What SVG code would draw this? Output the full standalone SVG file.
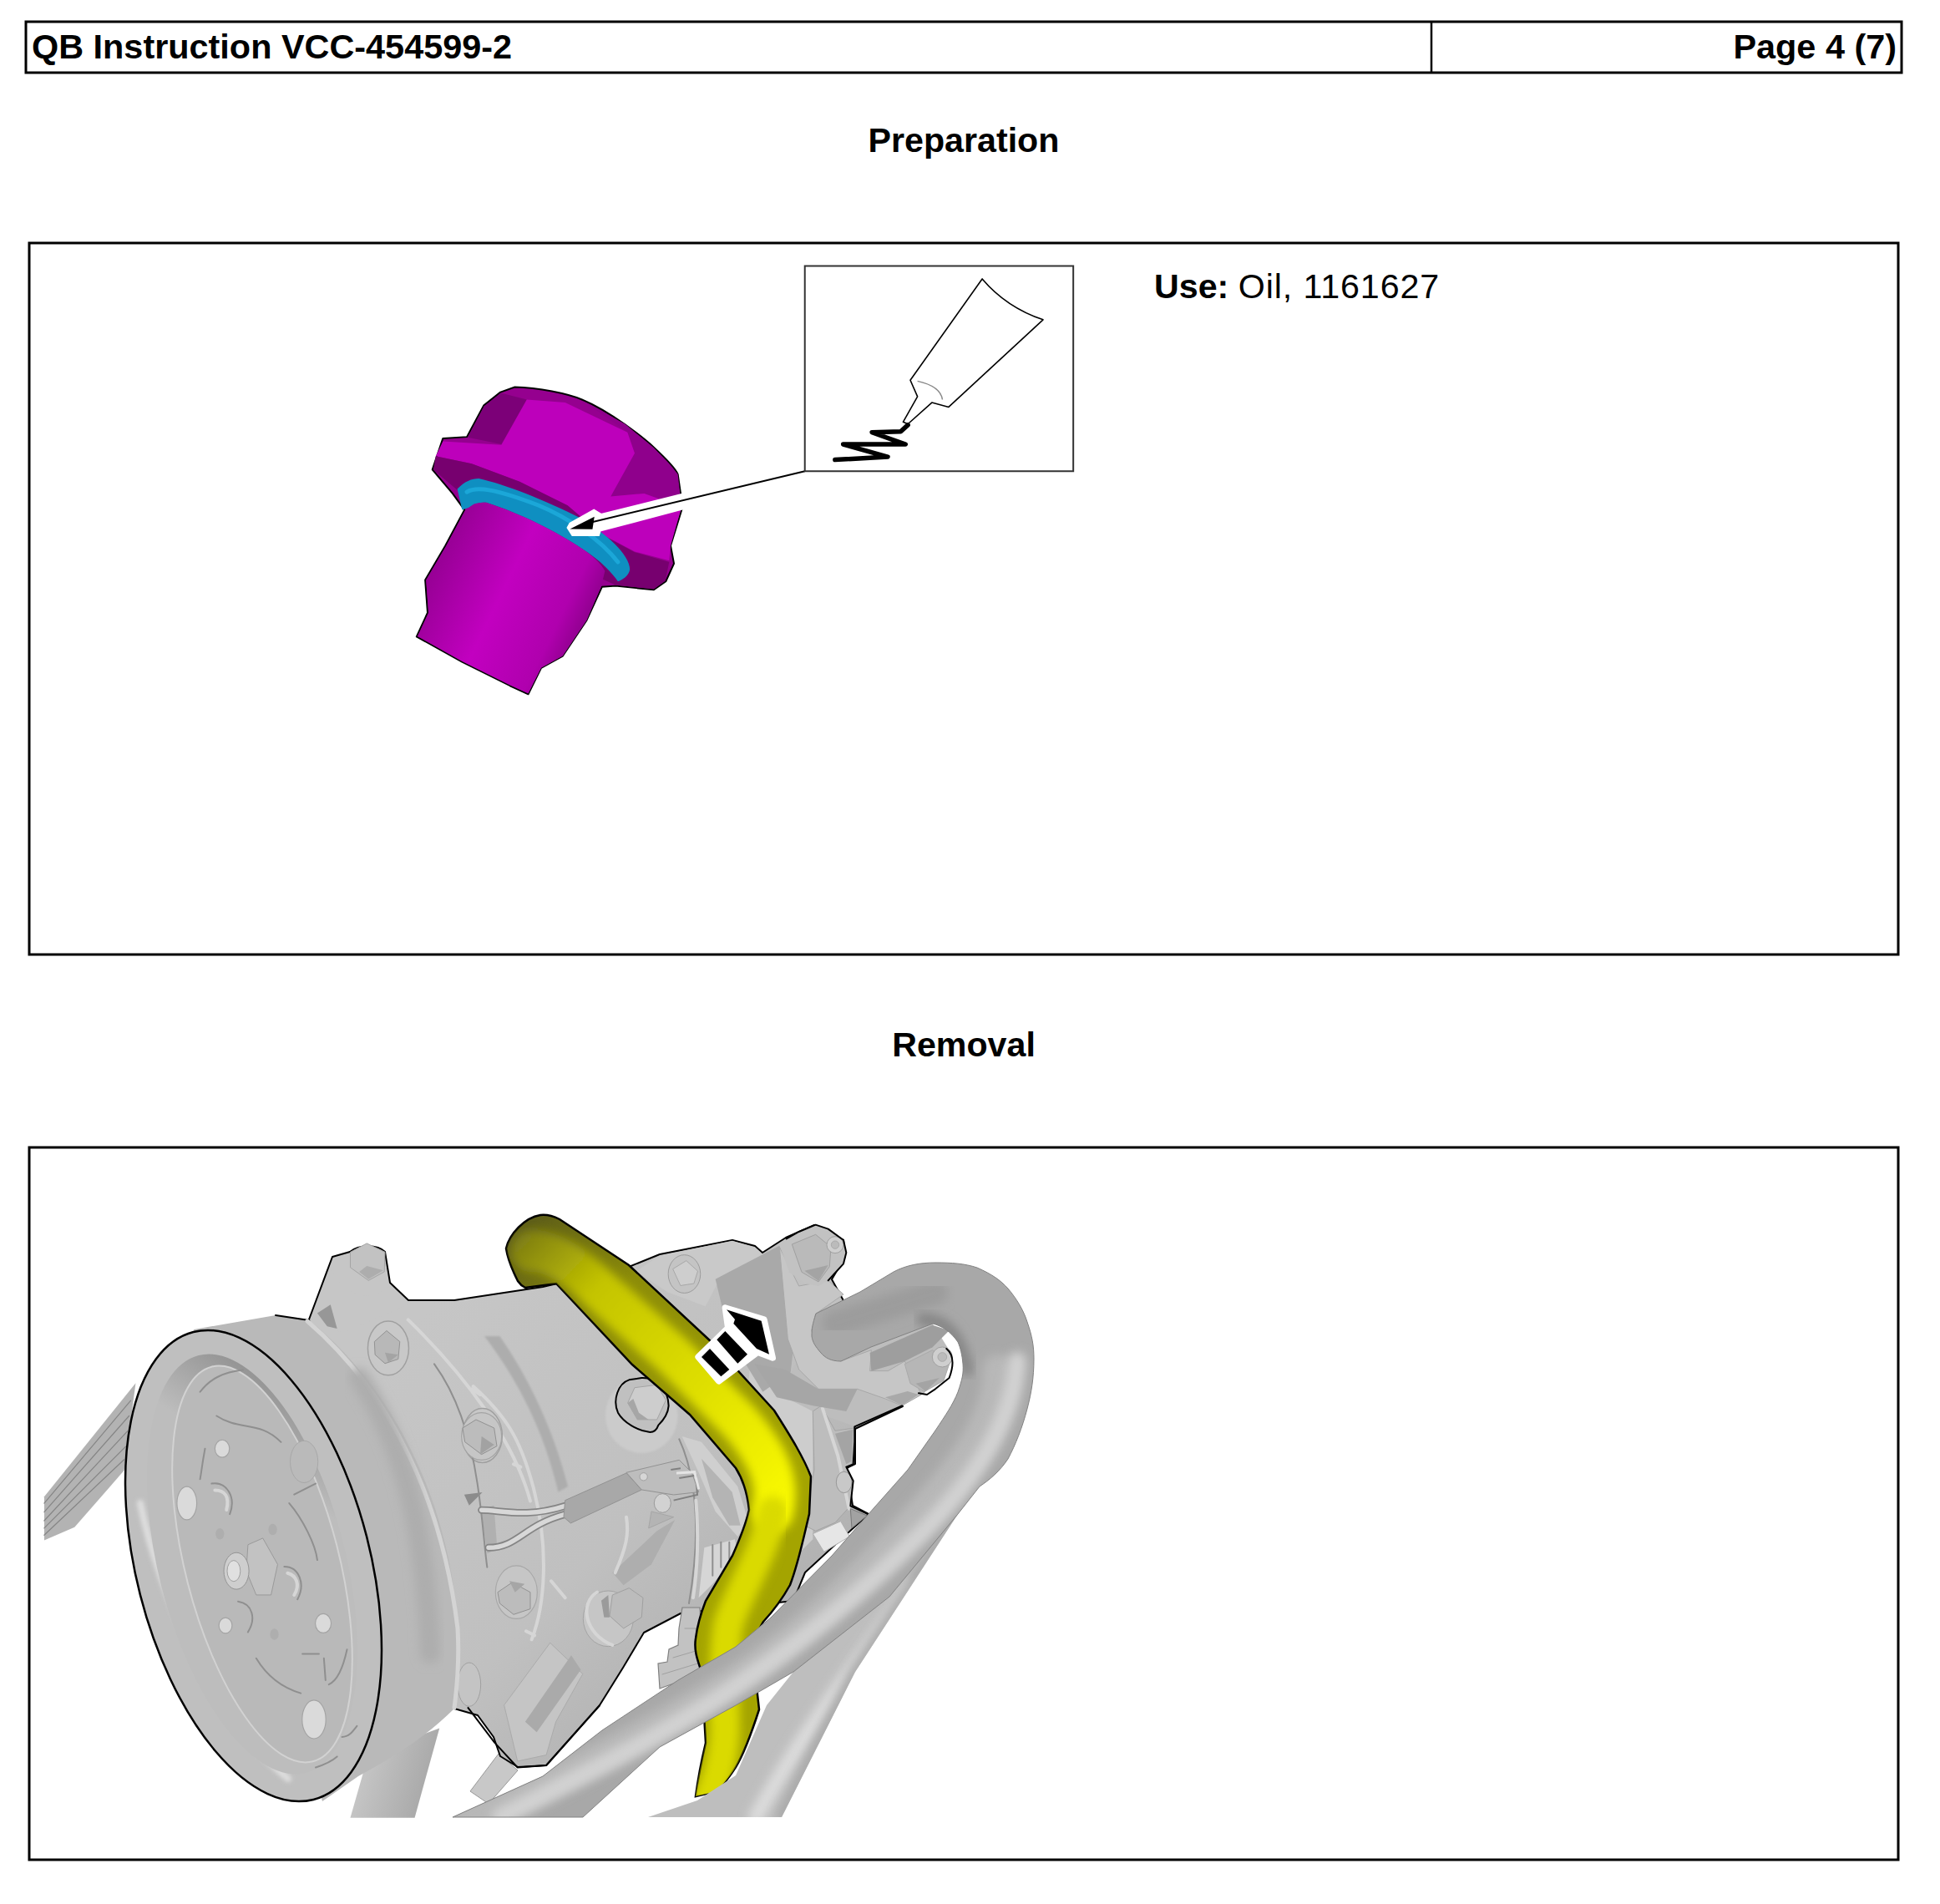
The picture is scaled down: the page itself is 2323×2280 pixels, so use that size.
<svg xmlns="http://www.w3.org/2000/svg" width="2323" height="2280" viewBox="0 0 2323 2280">
<style>
text{font-family:"Liberation Sans",Arial,sans-serif;font-size:41.2px;fill:#000}
.b{font-weight:700}
#header text{font-size:41.4px}
.frame{fill:none;stroke:#000;stroke-width:3}
.z *{vector-effect:non-scaling-stroke}
.o{stroke:#000;stroke-width:2;stroke-linejoin:round}
.ln{fill:none;stroke-linecap:round;stroke-linejoin:round}
.stud{fill:#dadada;stroke:#a4a4a4;stroke-width:1.2}
.arc{fill:none;stroke:#8f8f8f;stroke-width:2;stroke-linecap:round}
.arcl{fill:none;stroke:#d6d6d6;stroke-width:4;stroke-linecap:round}
</style>
<defs>
<filter id="soft" x="-20%" y="-20%" width="140%" height="140%"><feGaussianBlur stdDeviation="6"/></filter>
<filter id="soft2" x="-20%" y="-20%" width="140%" height="140%"><feGaussianBlur stdDeviation="2.5"/></filter>
<linearGradient id="stem" x1="0" y1=".25" x2="1" y2=".75"><stop offset="0" stop-color="#8a0088"/><stop offset=".45" stop-color="#c200c0"/><stop offset=".75" stop-color="#b000ae"/><stop offset="1" stop-color="#6f006e"/></linearGradient>
<linearGradient id="yb" gradientUnits="userSpaceOnUse" x1="620" y1="1480" x2="930" y2="1800"><stop offset="0" stop-color="#5e5e18"/><stop offset=".3" stop-color="#8c8c08"/><stop offset="1" stop-color="#a4a400"/></linearGradient>
<linearGradient id="yh" gradientUnits="userSpaceOnUse" x1="620" y1="1480" x2="940" y2="1790"><stop offset="0" stop-color="#7c7c14"/><stop offset=".25" stop-color="#c4c400"/><stop offset="1" stop-color="#f8f800"/></linearGradient>
<linearGradient id="belt2" x1="0" y1="0" x2="1" y2=".3"><stop offset="0" stop-color="#cfcfcf"/><stop offset="1" stop-color="#a8a8a8"/></linearGradient>
<linearGradient id="rec" gradientUnits="userSpaceOnUse" x1="190" y1="1640" x2="290" y2="1750"><stop offset="0" stop-color="#7d7d7d"/><stop offset="1" stop-color="#bdbdbd"/></linearGradient>
<linearGradient id="bod" gradientUnits="userSpaceOnUse" x1="480" y1="1600" x2="900" y2="2000"><stop offset="0" stop-color="#c6c6c6"/><stop offset=".6" stop-color="#c0c0c0"/><stop offset="1" stop-color="#b0b0b0"/></linearGradient>
<clipPath id="crop"><rect x="40" y="1400" width="1260" height="777"/></clipPath>
<clipPath id="yclip"><path id="yp" d="M606 1495C610 1478 628 1458 647 1455C655 1454 662 1456 670 1460L753 1515L854 1609L927 1689C948 1722 962 1745 971 1768L969 1813C962 1842 956 1872 946 1898C936 1916 925 1930 914 1942L900 1967L909 2047C900 2075 892 2098 881 2116C872 2130 862 2142 854 2146L833 2151C836 2128 840 2108 845 2087L840 2002C834 1985 831 1975 833 1962C835 1945 840 1930 845 1917L877 1863C885 1845 893 1825 897 1808C895 1790 890 1772 881 1758L826 1694L757 1634L666 1537L629 1542C625 1540 622 1537 620 1534C614 1522 608 1508 606 1495Z"/></clipPath>
<clipPath id="aclip"><path id="ap" d="M972 1600C972 1590 973 1586 977 1573L1030 1547L1070 1523C1085 1515 1102 1512 1120 1512C1140 1512 1155 1513 1170 1518C1188 1526 1198 1533 1207 1543C1218 1556 1226 1570 1230 1583C1236 1600 1238 1612 1238 1627C1238 1650 1235 1668 1230 1687C1224 1710 1216 1730 1207 1747C1197 1762 1185 1772 1173 1780L1147 1813L1065 1912L950 2002L881 2042L790 2092L698 2176H542L650 2127L721 2072L812 2012L881 1972L923 1937L996 1863L1040 1813L1087 1760L1120 1713C1132 1695 1141 1682 1147 1667C1152 1652 1154 1645 1153 1633C1152 1622 1150 1614 1147 1607C1138 1594 1128 1588 1117 1585L1043 1613L1007 1630C995 1630 988 1626 983 1620C976 1612 973 1607 972 1600Z"/></clipPath>
<clipPath id="bclip"><path id="bp" d="M1147 1813L1024 2002L936 2176H776L835 2156L881 2126L918 2042L950 2002L1060 1880Z"/></clipPath>
</defs>
<rect width="2323" height="2280" fill="#fff"/>

<g id="header">
<rect class="frame" x="31" y="26" width="2246" height="61"/>
<line x1="1714" y1="26" x2="1714" y2="87" stroke="#000" stroke-width="2.5"/>
<text class="b" x="38" y="70">QB Instruction VCC-454599-2</text>
<text class="b" x="2271" y="70" text-anchor="end">Page 4 (7)</text>
</g>
<text id="title-preparation" class="b" x="1154" y="182" text-anchor="middle">Preparation</text>
<rect id="panel-preparation" class="frame" x="35" y="291" width="2238" height="852"/>
<text id="use-note" x="1382" y="357"><tspan class="b">Use:</tspan> <tspan letter-spacing=".9">Oil, 1161627</tspan></text>
<text id="title-removal" class="b" x="1154" y="1265" text-anchor="middle">Removal</text>
<rect id="panel-removal" class="frame" x="35" y="1374" width="2238" height="853"/>

<g id="plug" class="z" transform="translate(450 300) scale(.574 .357)">
<path class="o" fill="#95008f" d="M290 458C340 460 400 480 430 500C490 540 560 630 580 660C600 690 625 730 630 750L640 860L615 990L622 1050L605 1110L580 1138L500 1125L472 1128L440 1240L390 1360L345 1400L318 1488L280 1460L180 1380L85 1295L108 1215L103 1105L145 990L185 870L160 815L118 735L140 630L190 625L225 520L260 475Z"/>
<path fill="#7c0078" d="M262 478L315 500L262 650L192 627L226 522Z"/>
<path fill="#8f008c" d="M430 502L525 610L540 680L490 825L560 815L638 860L630 750L580 662L520 582Z"/>
<path fill="#bd00bb" d="M315 500L395 510L525 610L540 680L490 825L560 815L638 860L615 990L612 1040L540 1010L470 950L400 855L300 775L200 715L125 690L140 640L262 652Z"/>
<path fill="#77006f" d="M125 690L200 715L300 775L400 855L470 952L540 1012L612 1045L604 1108L580 1136L500 1122L470 1100L300 900L175 810L120 735Z"/>
<path fill="#0f8fc1" d="M170 800C185 775 200 765 215 765C270 785 350 835 430 900C480 950 530 1020 530 1070C528 1090 515 1105 505 1110C495 1085 470 1040 430 1000C380 945 300 880 230 845C215 845 205 850 195 862L180 870Z"/>
<path class="ln" stroke="#1ba7d8" stroke-width="5" d="M190 810C210 790 250 800 340 855C400 895 470 970 505 1045"/>
<path fill="url(#stem)" d="M205 850C215 845 222 845 230 845C300 880 380 945 430 1000C450 1020 470 1050 478 1075L470 1128L440 1240L390 1360L345 1400L318 1486L280 1458L180 1378L87 1294L110 1215L105 1105L147 990L187 870Z"/>
<g id="leader">
<path fill="#fff" stroke="#fff" stroke-width="2" d="M645 815L470 885L455 870L405 915L400 930L410 955L465 955L468 940L645 865Z"/>
<line x1="895" y1="740" x2="440" y2="915" stroke="#000" stroke-width="2"/>
<path fill="#000" d="M405 934L456 893L452 935Z"/>
</g>
<g id="inset">
<rect x="895" y="52" width="560" height="688" fill="none" stroke="#333" stroke-width="2"/>
<path fill="#fff" stroke="#000" stroke-width="1.6" stroke-linejoin="round" d="M1265 95Q1315 190 1392 232L1195 525L1160 510L1110 582L1100 575L1130 490L1115 435Z"/>
<path d="M1130 438Q1178 455 1182 500" fill="none" stroke="#888" stroke-width="1.5"/>
<path class="ln" stroke="#000" stroke-width="5.5" d="M1110 585L1095 607L1035 610L1105 650L975 650L1068 692L958 702"/>
</g>
</g>

<g id="compressor-scene" clip-path="url(#crop)">
<g id="belt" class="z" transform="translate(30 1400) scale(.3954 .523)">
<path fill="#b3b3b3" d="M58 750L335 490L300 690L150 820L58 850Z"/>
<path class="ln" stroke="#858585" stroke-width="1.2" d="M58 765L320 530M58 785L315 565M58 805L310 600M58 822L305 635M58 838L300 665"/>
<path fill="url(#belt2)" d="M985 1485L1040 1340L1255 1280L1180 1485Z"/>
</g>

<path id="rod" fill="#c8c8c8" stroke="#999" stroke-width="1" d="M597 2100L620 2120L585 2160L563 2145Z"/>

<g id="compressor-body">
<path class="o" fill="url(#bod)" d="M370 1580L398 1505L419 1499C430 1490 452 1490 461 1499L467 1536L489 1557L544 1557L650 1541L753 1517L790 1502L877 1485L904 1492L913 1500L941 1482L975 1467L1010 1485L1012 1505L996 1532L1007 1552L1081 1684L1024 1711L1024 1753L1014 1758L1021 1803L1040 1813L964 1883L950 1917L815 1932L771 1955L746 1997L718 2042L654 2114L620 2116L599 2103L591 2080L572 2054L544 2046L440 2000Z"/>
<g class="z" transform="translate(30 1400) scale(.3954 .523)">
<path fill="#c6c6c6" d="M930 230C960 290 1050 310 1105 265L1160 310L960 375L900 350L870 340Z"/>
<path fill="#979797" d="M885 330L925 310L945 365L915 360Z"/>
<path fill="#c2c2c2" stroke="#a4a4a4" stroke-width="1" d="M985 190L1035 170L1090 190L1088 235L1040 255L985 225Z"/>
<path fill="#adadad" d="M1035 222L1085 232L1040 252L1012 235Z"/>
<path class="arcl" stroke-width="10" stroke="#cfcfcf" d="M1160 345C1330 470 1480 620 1530 760"/>
<ellipse cx="1100" cy="410" rx="62" ry="62" fill="#c8c8c8" stroke="#a0a0a0" stroke-width="1.5"/>
<path fill="#b8b8b8" stroke="#939393" d="M1058 395L1095 370L1135 395L1130 435L1090 445L1060 425Z"/>
<path fill="#a4a4a4" d="M1090 420L1130 425L1100 443Z"/>
<ellipse cx="1385" cy="610" rx="60" ry="62" fill="#c8c8c8" stroke="#a0a0a0" stroke-width="1.5"/>
<path fill="#b8b8b8" stroke="#939393" d="M1330 600L1375 570L1420 590L1420 635L1370 650L1335 630Z"/>
<path fill="#a4a4a4" d="M1395 615L1425 600L1420 640L1385 648Z"/>
<path d="M1330 745L1385 740L1345 770Z" fill="#8c8c8c"/>
<path fill="#b0b0b0" d="M1380 780L1420 770L1430 870L1400 880Z"/>
<ellipse cx="1345" cy="1180" rx="35" ry="50" fill="#c4c4c4" stroke="#a0a0a0"/>
</g>
<g class="z" transform="translate(560 1440) scale(.4592 .4974)">
<path fill="#c9c9c9" d="M440 165L500 128L690 92L750 108L770 125L660 180L620 250L520 215Z"/>
<ellipse cx="565" cy="172" rx="42" ry="46" fill="#c4c4c4" stroke="#9c9c9c"/>
<path fill="#cecece" stroke="#a8a8a8" d="M535 160L570 140L600 165L590 195L555 200Z"/>
</g>
<g class="z" transform="translate(520 1620) scale(.3333)">
<path fill="#adadad" filter="url(#soft2)" d="M180 -60L235 -60C340 90 430 280 480 480L445 500C400 300 310 110 180 -60Z"/>
<path class="arcl" d="M140 120C250 220 310 300 360 500C410 700 400 900 350 1030"/>
<path class="arc" stroke="#a6a6a6" d="M0 40C80 150 130 300 155 470C175 600 180 700 190 770"/>
<path class="arc" stroke="#a8a8a8" d="M880 310C940 440 960 640 915 900"/>
<path fill="#cfcfcf" d="M890 300L960 320L1090 480L1130 610L1090 660L1010 570L950 430Z"/>
<path fill="#b4b4b4" d="M960 380L1070 500L1100 620L1060 620L1000 520Z"/>
<path fill="#d6d6d6" d="M970 700L1080 670L1090 720L1000 830L950 880Z"/>
<path class="arc" stroke="#aaa" d="M1000 690L1000 800M1030 680L1030 770M1060 680L1060 740"/>
<path class="arcl" d="M940 530C950 650 945 780 930 880"/>
<ellipse cx="745" cy="225" rx="130" ry="135" fill="#cbcbcb" filter="url(#soft2)"/>
<path class="o" fill="#c0c0c0" d="M745 90C800 88 840 130 842 190C840 220 825 240 805 260C800 275 790 285 775 285C730 280 680 250 660 215C640 170 660 110 700 97Z"/>
<path fill="#cdcdcd" stroke="#a4a4a4" stroke-width="1" d="M720 125L800 115L832 170L800 240L730 240L695 180Z"/>
<path fill="#a6a6a6" d="M695 180L730 240L770 240L735 215L715 165Z"/>
<ellipse cx="170" cy="300" rx="72" ry="85" fill="#c6c6c6" stroke="#a4a4a4" stroke-width="1.2"/>
<path fill="#bcbcbc" stroke="#929292" stroke-width="1" d="M102 270L150 240L215 270L225 335L170 365L110 320Z"/>
<path fill="#a2a2a2" d="M170 300L215 330L165 365Z"/>
<ellipse cx="295" cy="860" rx="75" ry="95" fill="#c6c6c6" stroke="#a8a8a8" stroke-width="1.2"/>
<path fill="#bcbcbc" stroke="#929292" stroke-width="1" d="M228 860L280 825L345 860L345 920L285 940L235 900Z"/>
<path fill="#a6a6a6" d="M270 820L325 830L290 860Z"/>
<path class="arcl" stroke-width="5" d="M420 820L470 880M135 130L165 150M285 400L310 410M330 1000L360 1015"/>
<path fill="#aeaeae" d="M640 790L800 640L865 600L780 760L680 835Z"/>
<path class="arcl" stroke-width="4" d="M690 590C700 650 690 700 650 790"/>
<path fill="#b4b4b4" stroke="#a6a6a6" d="M780 570L860 590L770 630Z"/>
<ellipse cx="820" cy="540" rx="30" ry="34" fill="#d2d2d2" stroke="#9a9a9a"/>
<path class="ln" stroke="#858585" stroke-width="9" d="M170 565C240 565 330 595 470 550M195 700C300 700 320 620 470 580"/>
<path class="ln" stroke="#d8d8d8" stroke-width="5.5" d="M170 565C240 565 330 595 470 550M195 700C300 700 320 620 470 580"/>
<path fill="#a8a8a8" stroke="#929292" d="M470 530L690 432L745 492L490 612L465 590Z"/>
<path fill="#bdbdbd" stroke="#929292" d="M690 430L880 385L925 430L950 500L860 510L745 492Z"/>
<circle cx="752" cy="445" r="14" fill="#d6d6d6" stroke="#a0a0a0"/>
<path fill="none" stroke="#808080" stroke-width="2" d="M850 420L885 415M880 450L940 440L945 510L860 530"/>
<path fill="none" stroke="#e4e4e4" stroke-width="3" d="M870 432L935 428L950 490"/>
<ellipse cx="625" cy="955" rx="90" ry="100" fill="#c6c6c6" stroke="#a4a4a4"/>
<path class="arcl" stroke-width="6" d="M585 860C520 900 540 1010 640 1050"/>
<path fill="#bcbcbc" stroke="#a0a0a0" d="M640 870L700 845L750 880L745 950L680 990L630 945Z"/>
<path fill="#9b9b9b" d="M600 890L625 870L630 950L610 950Z"/>
</g>
<g class="z" transform="translate(560 1440) scale(.4592 .4974)">
<path fill="#c5c5c5" stroke="#ababab" d="M95 1210L215 1060L300 1135L230 1250L205 1330L130 1345Z"/>
<path fill="#aaa" d="M150 1250L270 1090L295 1125L180 1275Z"/>
<path class="o" fill="none" d="M0 1215L70 1300L130 1360L205 1355L345 1210"/>
</g>
<g id="pump-head" class="z" transform="translate(920 1460) scale(.3333)">
<path fill="#cdcdcd" d="M-60 450L60 640L160 690L160 1150L60 1250L-20 1000L-80 700Z"/>
<path fill="#bdbdbd" d="M200 300L590 375L650 470L560 625L480 670L310 745L160 690L60 600Z"/>
<path fill="#bdbdbd" stroke="#a4a4a4" d="M160 690L190 670L240 760L310 750L300 880L280 890L305 940L295 1030L240 1090L170 1120L130 1100L165 900Z"/>
<path fill="#a4a4a4" d="M240 770L305 755L298 870L280 880Z"/>
<path class="arcl" d="M195 680L250 850L290 1040"/>
<ellipse cx="272" cy="945" rx="28" ry="38" fill="#c8c8c8" stroke="#989898"/>
<path fill="#e6e6e6" stroke="#b0b0b0" d="M160 1130L260 1085L292 1140L200 1195Z"/>
<path fill="#a9a9a9" d="M-190 215L40 95L110 290L80 550L-20 620L-130 440L-165 320Z"/>
<path fill="#c6c6c6" stroke="#a8a8a8" d="M40 100L110 240L215 220L270 270L170 340L155 400L200 490L260 510L370 470L365 545L430 545L490 510L550 630L480 670L420 645L320 610L180 610L110 540L70 430Z"/>
<path fill="#a6a6a6" d="M-50 520L60 540L180 610L320 610L280 690L160 670L30 640Z"/>
<path fill="#a9a9a9" d="M420 640L500 618L540 630L480 668Z"/>
<path fill="#9e9e9e" d="M365 480L590 380L650 400L590 460L490 510L370 545Z"/>
<path fill="#c2c2c2" d="M40 90L65 70L110 45L170 20L215 35L270 75L280 120L270 160L215 220L180 240L130 230L75 190Z"/>
<path fill="#bababa" stroke="#a0a0a0" d="M85 90L170 55L225 100L220 170L180 225L120 190Z"/>
<path fill="#a4a4a4" d="M130 185L215 165L180 222Z"/>
<circle cx="240" cy="92" r="30" fill="#cfcfcf" stroke="#a0a0a0"/>
<circle cx="240" cy="92" r="14" fill="#bbb" stroke="#aaa"/>
<path fill="#b6b6b6" stroke="#aaa" d="M490 520L590 470L650 520L630 580L560 620L510 590Z"/>
<path fill="#a4a4a4" d="M530 590L615 570L565 618Z"/>
<circle cx="625" cy="495" r="36" fill="#cfcfcf" stroke="#a0a0a0"/>
<circle cx="625" cy="495" r="16" fill="#bbb" stroke="#aaa"/>
<path class="ln" stroke="#000" stroke-width="2" d="M640 465C670 490 665 530 650 570L600 610L570 630L540 625M65 70L110 45L170 20L215 35L270 75L280 120L270 160L215 220M480 670L310 745L310 800L305 880L280 890L305 940L295 1030L360 1060"/>
<path fill="#a2a2a2" stroke="#777" d="M295 1040L355 1065L300 1110Z"/>
</g>
<path id="connector" fill="#c2c2c2" stroke="#808080" stroke-width="1.2" d="M817 1925L838 1925L842 2003L790 2022L788 1992L799 1990L801 1975L812 1970L813 1950Z"/>
<path class="ln" stroke="#a0a0a0" stroke-width="1" d="M820 1950L838 1950M806 1985L840 1975M793 2005L842 1990"/>
</g>

<g id="pulley">
<path fill="#b9b9b9" d="M232 1592L330 1575L370 1581C470 1660 540 1800 548 1950C552 2000 548 2030 544 2046C510 2080 470 2105 429 2127L386 2157Z"/>
<path class="ln" stroke="#000" stroke-width="2" d="M330 1575L370 1581"/>
<path class="ln" stroke="#d4d4d4" stroke-width="5" d="M368 1582C470 1670 530 1800 548 1950C550 1985 548 2015 544 2045"/>
<path class="ln" stroke="#adadad" stroke-width="24" filter="url(#soft)" d="M430 1650C490 1740 510 1850 515 1980"/>
<ellipse cx="303.500" cy="1875" rx="289" ry="140" transform="rotate(75.6 303.500 1875)" fill="#bfbfbf" stroke="#000" stroke-width="2.5"/>
<path class="ln" stroke="#dedede" stroke-width="8" d="M168 1800C190 1910 260 2060 345 2130" filter="url(#soft2)"/>
<ellipse cx="302" cy="1873" rx="258" ry="112" transform="rotate(75.6 302 1873)" fill="url(#rec)"/>
<ellipse cx="314" cy="1873" rx="244" ry="92" transform="rotate(75.6 314 1873)" fill="#b9b9b9" stroke="#d2d2d2" stroke-width="2"/>
<g class="z" transform="translate(30 1400) scale(.3954 .523)">
<path class="arc" stroke-width="2.5" d="M580 565C650 600 710 575 775 625M545 640C535 680 535 690 530 710M530 510C560 480 600 465 660 460M800 765C840 800 880 860 885 895M700 1120C740 1170 790 1190 835 1200M840 1110L890 1110M905 1120L910 1170M920 1180C950 1170 965 1135 975 1100M960 1300C980 1300 990 1290 1005 1275M880 1370C900 1365 930 1355 945 1345"/>
<ellipse cx="845" cy="670" rx="42" ry="48" fill="#bababa" stroke="#a8a8a8"/>
<path d="M815 745L880 720" class="arc"/>
<ellipse cx="597" cy="640" rx="22" ry="20" class="stud"/>
<ellipse cx="490" cy="765" rx="30" ry="38" class="stud"/>
<ellipse cx="607" cy="1045" rx="20" ry="18" class="stud"/>
<ellipse cx="903" cy="1040" rx="24" ry="22" class="stud"/>
<ellipse cx="875" cy="1260" rx="36" ry="44" class="stud"/>
<path class="arc" d="M565 720C610 715 640 750 620 790M785 910C830 910 850 950 825 985M645 990C690 995 700 1030 675 1060"/>
<path class="arcl" stroke-width="3" d="M575 735C605 735 620 750 610 780M795 925C820 930 835 950 815 975"/>
<path fill="#c2c2c2" stroke="#9a9a9a" d="M675 860L720 845L765 905L745 975L700 975L670 920Z"/>
<ellipse cx="640" cy="920" rx="38" ry="42" fill="#cecece" stroke="#949494"/>
<ellipse cx="632" cy="920" rx="20" ry="24" fill="#e0e0e0" stroke="#a0a0a0"/>
<circle cx="750" cy="825" r="13" fill="#aeaeae"/>
<circle cx="590" cy="835" r="13" fill="#aeaeae"/>
<circle cx="755" cy="1065" r="13" fill="#aeaeae"/>
</g>
</g>

<g id="yellow-hose">
<use href="#yp" fill="url(#yb)" stroke="#000" stroke-width="2.5"/>
<g clip-path="url(#yclip)">
<path class="ln" stroke="url(#yh)" stroke-width="50" filter="url(#soft)" d="M636 1498C660 1497 690 1517 715 1542L805 1622L885 1702C915 1737 935 1770 925 1810"/>
<path class="ln" stroke="#dada00" stroke-width="36" filter="url(#soft)" d="M925 1810C915 1860 885 1905 872 1945C865 1985 868 2050 868 2075C866 2110 855 2140 845 2160"/>
</g>
</g>

<g id="pipe-lower">
<use href="#bp" fill="#bebebe"/>
<g clip-path="url(#bclip)">
<path class="ln" stroke="#dcdcdc" stroke-width="18" filter="url(#soft)" d="M1090 1900C1030 1990 970 2060 905 2176"/>
<path class="ln" stroke="#a8a8a8" stroke-width="14" filter="url(#soft)" d="M1147 1813L1024 2002L936 2176"/>
</g>
</g>
<g id="pipe-upper">
<use href="#ap" fill="#a8a8a8"/>
<g clip-path="url(#aclip)">
<path class="ln" stroke="#9c9c9c" stroke-width="30" filter="url(#soft)" d="M1000 1585L1120 1548"/>
<path class="ln" stroke="#868686" stroke-width="16" filter="url(#soft)" d="M1105 1580C1135 1580 1150 1605 1158 1640"/>
<path class="ln" stroke="#b8b8b8" stroke-width="36" filter="url(#soft)" d="M1195 1640C1195 1700 1150 1760 1090 1825C1020 1900 950 1970 850 2030C760 2085 680 2125 560 2180"/>
<path class="ln" stroke="#d2d2d2" stroke-width="22" filter="url(#soft)" d="M1218 1630C1214 1700 1170 1770 1100 1840C1030 1910 950 1975 850 2040C770 2090 690 2130 600 2176"/>
</g>
<use href="#ap" fill="none" stroke="#828282" stroke-width="1"/>
</g>

<g id="service-arrow" transform="translate(820 1540) scale(.3333)">
<path fill="#fff" stroke="#fff" stroke-width="22" stroke-linejoin="round" d="M145 78L285 120L316 258L262 238L122 342L48 255L155 150Z"/>
<path fill="#000" d="M150 85L275 125L303 245L258 225L175 135L180 120Z"/>
<path fill="#000" d="M115 193L145 162L225 245L190 278Z"/>
<path fill="#000" d="M60 255L90 225L160 300L130 325Z"/>
</g>
</g>
</svg>
